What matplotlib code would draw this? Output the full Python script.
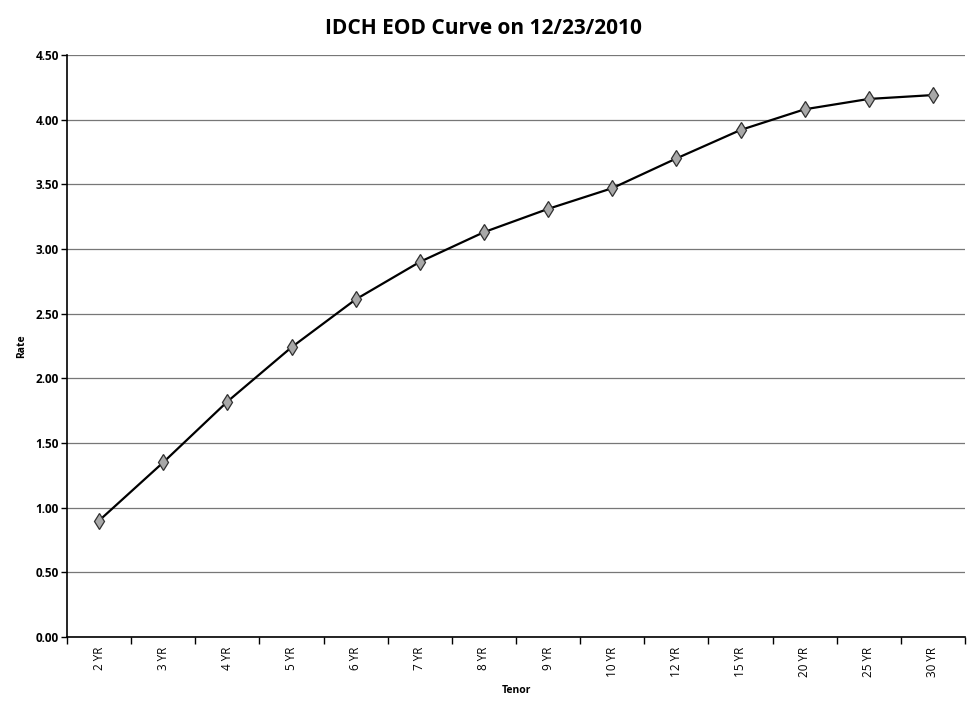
import numpy as np
import matplotlib.pyplot as plt
from matplotlib.ticker import FixedLocator, FixedFormatter

tenors = ["2 YR", "3 YR", "4 YR", "5 YR", "6 YR", "7 YR", "8 YR", "9 YR",
          "10 YR", "12 YR", "15 YR", "20 YR", "25 YR", "30 YR"]
rates = [0.90, 1.35, 1.82, 2.24, 2.61, 2.90, 3.13, 3.31,
         3.47, 3.70, 3.92, 4.08, 4.16, 4.19]
yticks = [0.0, 0.5, 1.0, 1.5, 2.0, 2.5, 3.0, 3.5, 4.0, 4.5]

plt.rcParams['font.family'] = ['Open Sans', 'DejaVu Sans']

fig = plt.figure(figsize=(9.67, 7.02), dpi=100)
ax = fig.add_axes([0.0693, 0.0926, 0.9287, 0.8291])

x = np.arange(len(tenors))
ax.plot(x, rates, color='black', lw=1.6, marker='d', markersize=8,
        markerfacecolor='#a8a8a8', markeredgecolor='#303030', markeredgewidth=0.9)

ax.set_xlim(-0.5, len(tenors) - 0.5)
ax.set_ylim(0, 4.5)
ax.set_yticks(yticks)
ax.set_yticklabels([f"{v:.2f}" for v in yticks], fontsize=8.5, fontweight='bold')
ax.yaxis.grid(True, color='#777777', lw=0.9)
ax.set_axisbelow(True)

ax.xaxis.set_major_locator(FixedLocator(np.arange(-0.5, len(tenors), 1.0)))
ax.xaxis.set_major_formatter(FixedFormatter([""] * (len(tenors) + 1)))
ax.xaxis.set_minor_locator(FixedLocator(x))
ax.xaxis.set_minor_formatter(FixedFormatter(tenors))
ax.tick_params(axis='x', which='major', length=5, width=1, direction='out')
ax.tick_params(axis='x', which='minor', length=0, labelsize=8.5, rotation=90, pad=7)
ax.tick_params(axis='y', length=4, width=1, direction='out', pad=2)

for s in ['top', 'right']:
    ax.spines[s].set_visible(False)
for s in ['left', 'bottom']:
    ax.spines[s].set_linewidth(1.2)

ax.set_xlabel("Tenor", fontsize=7.5, fontweight='bold', labelpad=6)
ax.set_ylabel("Rate", fontsize=7.5, fontweight='bold', labelpad=6)
fig.suptitle("IDCH EOD Curve on 12/23/2010", fontsize=15, fontweight='bold', y=0.975)

fig.savefig("out.png", dpi=100)
